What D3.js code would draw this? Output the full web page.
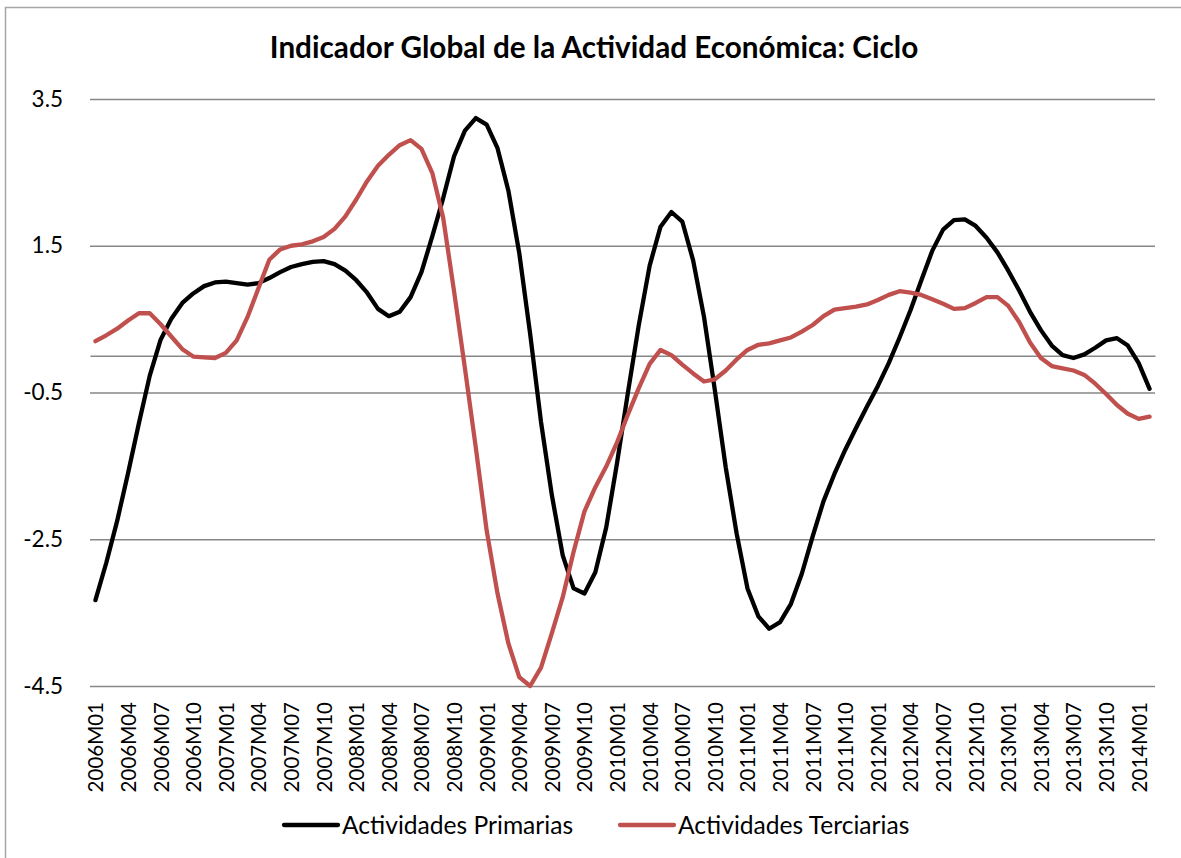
<!DOCTYPE html>
<html>
<head>
<meta charset="utf-8">
<script src="https://d3js.org/d3.v7.min.js"></script>
<style>
  body { margin: 0; background: #fff; }
  text { font-family: Lato, "Open Sans", sans-serif; fill: #000; }
</style>
</head>
<body>
<div id="chart"></div>
<script>
// Data
// ==============================
var months = [
  "2006M01","2006M02","2006M03","2006M04","2006M05","2006M06","2006M07","2006M08","2006M09","2006M10","2006M11","2006M12",
  "2007M01","2007M02","2007M03","2007M04","2007M05","2007M06","2007M07","2007M08","2007M09","2007M10","2007M11","2007M12",
  "2008M01","2008M02","2008M03","2008M04","2008M05","2008M06","2008M07","2008M08","2008M09","2008M10","2008M11","2008M12",
  "2009M01","2009M02","2009M03","2009M04","2009M05","2009M06","2009M07","2009M08","2009M09","2009M10","2009M11","2009M12",
  "2010M01","2010M02","2010M03","2010M04","2010M05","2010M06","2010M07","2010M08","2010M09","2010M10","2010M11","2010M12",
  "2011M01","2011M02","2011M03","2011M04","2011M05","2011M06","2011M07","2011M08","2011M09","2011M10","2011M11","2011M12",
  "2012M01","2012M02","2012M03","2012M04","2012M05","2012M06","2012M07","2012M08","2012M09","2012M10","2012M11","2012M12",
  "2013M01","2013M02","2013M03","2013M04","2013M05","2013M06","2013M07","2013M08","2013M09","2013M10","2013M11","2013M12",
  "2014M01","2014M02"
];

var primarias = [
  -3.33, -2.82, -2.25, -1.60, -0.92, -0.27, 0.22, 0.51, 0.72, 0.85, 0.95, 1.00,
  1.01, 0.99, 0.97, 0.99, 1.06, 1.14, 1.21, 1.25, 1.28, 1.29, 1.25, 1.16,
  1.03, 0.86, 0.64, 0.54, 0.60, 0.80, 1.14, 1.63, 2.15, 2.72, 3.07, 3.24,
  3.15, 2.83, 2.25, 1.40, 0.30, -0.90, -1.90, -2.72, -3.17, -3.24, -2.95, -2.34,
  -1.46, -0.50, 0.42, 1.23, 1.76, 1.96, 1.83, 1.30, 0.53, -0.47, -1.52, -2.42,
  -3.17, -3.55, -3.72, -3.63, -3.38, -2.97, -2.46, -1.98, -1.61, -1.28, -0.98, -0.69,
  -0.41, -0.10, 0.25, 0.62, 1.03, 1.43, 1.72, 1.85, 1.86, 1.77, 1.61, 1.41,
  1.16, 0.89, 0.60, 0.35, 0.14, 0.01, -0.03, 0.02, 0.11, 0.21, 0.24, 0.14,
  -0.10, -0.45
];

var terciarias = [
  0.20, 0.28, 0.37, 0.48, 0.58, 0.58, 0.43, 0.26, 0.09, -0.01, -0.02, -0.03,
  0.04, 0.21, 0.53, 0.92, 1.31, 1.45, 1.50, 1.52, 1.56, 1.62, 1.73, 1.90,
  2.13, 2.38, 2.59, 2.74, 2.87, 2.94, 2.82, 2.49, 1.88, 0.88, -0.17, -1.25,
  -2.38, -3.24, -3.92, -4.38, -4.50, -4.25, -3.78, -3.29, -2.67, -2.12, -1.79, -1.51,
  -1.18, -0.80, -0.44, -0.11, 0.08, 0.01, -0.12, -0.24, -0.35, -0.32, -0.20, -0.05,
  0.08, 0.15, 0.17, 0.21, 0.25, 0.33, 0.42, 0.54, 0.63, 0.65, 0.67, 0.70,
  0.76, 0.83, 0.88, 0.86, 0.83, 0.77, 0.71, 0.64, 0.65, 0.72, 0.80, 0.80,
  0.68, 0.46, 0.18, -0.03, -0.14, -0.17, -0.20, -0.26, -0.38, -0.52, -0.67, -0.79,
  -0.86, -0.83
];

var yTicks = [3.5, 1.5, -0.5, -2.5, -4.5];
var xLabels = months.filter(function (d, i) { return i % 3 === 0; });

var seriesNames = ["Actividades Primarias", "Actividades Terciarias"];
var seriesColors = ["#000000", "#C0504D"];

// Chart setup
// ==============================
var svgWidth = 1181;
var svgHeight = 858;

var margin = {
  top: 99,
  right: 26,
  bottom: 172,
  left: 90
};

var width = svgWidth - margin.left - margin.right;
var height = svgHeight - margin.top - margin.bottom;

var svg = d3.select("#chart")
  .append("svg")
  .attr("width", svgWidth)
  .attr("height", svgHeight);

// chart area border (right and bottom edges fall outside the picture)
svg.append("rect")
  .attr("x", 5.5)
  .attr("y", 7.5)
  .attr("width", svgWidth + 20)
  .attr("height", svgHeight + 20)
  .attr("fill", "none")
  .attr("stroke", "#a6a6a6")
  .attr("stroke-width", 1.5);

svg.append("text")
  .attr("x", 594)
  .attr("y", 58)
  .attr("text-anchor", "middle")
  .style("font-size", "29.7px")
  .style("font-weight", "bold")
  .text("Indicador Global de la Actividad Económica: Ciclo");

var chartGroup = svg.append("g")
  .attr("transform", `translate(${margin.left}, ${margin.top})`);

// Scales
// ==============================
var xScale = d3.scalePoint()
  .domain(months)
  .range([0, width])
  .padding(0.5);

var yScale = d3.scaleLinear()
  .domain([-4.5, 3.5])
  .range([height, 0]);

// Gridlines + y labels
// ==============================
var yAxis = d3.axisLeft(yScale)
  .tickValues(yTicks)
  .tickSize(-width)
  .tickPadding(27)
  .tickFormat(function (d) { return d.toFixed(1); });

var yAxisGroup = chartGroup.append("g").call(yAxis);
yAxisGroup.select(".domain").remove();
yAxisGroup.selectAll("line")
  .attr("stroke", "#878787")
  .attr("stroke-width", 1.5);
yAxisGroup.selectAll("text")
  .style("font-family", "Lato, 'Open Sans', sans-serif")
  .style("font-size", "22.5px")
  .attr("fill", "#000");

// category axis crosses at zero
var zeroAxis = d3.axisBottom(xScale).tickSize(0).tickSizeOuter(0).tickFormat("");
var zeroGroup = chartGroup.append("g")
  .attr("transform", `translate(0, ${yScale(0)})`)
  .call(zeroAxis);
zeroGroup.select(".domain")
  .attr("stroke", "#878787")
  .attr("stroke-width", 1.5);

// category labels sit low, under the plot
var xAxis = d3.axisBottom(xScale).tickValues(xLabels).tickSize(0);
var xAxisGroup = chartGroup.append("g")
  .attr("transform", `translate(0, ${height})`)
  .call(xAxis);
xAxisGroup.select(".domain").remove();
xAxisGroup.selectAll("text")
  .attr("transform", "rotate(-90)")
  .attr("x", -16)
  .attr("y", 0)
  .attr("dy", "0.36em")
  .style("text-anchor", "end")
  .style("font-family", "Lato, 'Open Sans', sans-serif")
  .style("font-size", "20.5px")
  .attr("fill", "#000");

// Lines
// ==============================
var line = d3.line()
  .x(function (d, i) { return xScale(months[i]); })
  .y(function (d) { return yScale(d); });

[primarias, terciarias].forEach(function (values, k) {
  chartGroup.append("path")
    .datum(values)
    .attr("d", line)
    .attr("fill", "none")
    .attr("stroke", seriesColors[k])
    .attr("stroke-width", 4.3)
    .attr("stroke-linejoin", "round")
    .attr("stroke-linecap", "round");
});

// Legend
// ==============================
var legendX = [284, 620];
var legendY = 825;

seriesNames.forEach(function (name, k) {
  var g = svg.append("g")
    .attr("transform", `translate(${legendX[k]}, ${legendY})`);
  g.append("line")
    .attr("x1", 0)
    .attr("x2", 54)
    .attr("stroke", seriesColors[k])
    .attr("stroke-width", 4.3)
    .attr("stroke-linecap", "round");
  g.append("text")
    .attr("x", 58)
    .attr("dy", "0.35em")
    .style("font-size", "24.6px")
    .text(name);
});
</script>
</body>
</html>
